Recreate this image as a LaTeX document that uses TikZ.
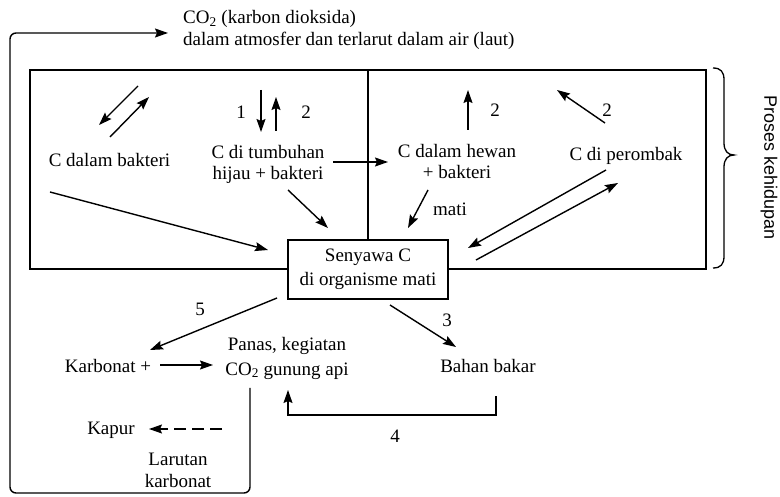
\documentclass[tikz,border=0pt]{standalone}
\usepackage{fontspec}
\setmainfont{Liberation Serif}
\newfontfamily\sansf{Liberation Sans}
\usetikzlibrary{arrows.meta}
\begin{document}
\begin{tikzpicture}[x=1pt,y=-1pt,
  every node/.style={inner sep=0pt, font=\fontsize{19}{21}\selectfont},
  txt/.style={align=center},
  arr/.style={line width=1.4pt,-{Stealth[length=13pt,width=9pt,inset=2pt]}},
  frame/.style={line width=1.1pt},
]
\useasboundingbox (0,0) rectangle (780,497);

% frame
\draw[frame] (30,70) rectangle (706,269);
\node[draw, frame, fill=white, minimum width=160pt, minimum height=59pt, txt,
      font=\fontsize{19}{24}\selectfont] (sen) at (368,269.5) {Senyawa C\\di organisme mati};
\coordinate (divtop) at (368,70);
\draw[frame] (divtop) -- (sen.north);

% brace
\draw[line width=1.3pt] (713,68) .. controls (721,68) and (724,72) .. (724,80) -- (724,143)
  .. controls (724,151) and (728,155) .. (734,155)
  .. controls (728,155) and (724,159) .. (724,167) -- (724,256)
  .. controls (724,264) and (721,268) .. (713,268);
\node[rotate=-90, font=\sansf\fontsize{18}{20}\selectfont] (proses) at (769,168) {Proses kehidupan};

% text nodes
\node[align=left, anchor=west, font=\fontsize{19}{21.5}\selectfont] (co2) at (183,30)
  {CO\textsubscript{2} (karbon dioksida)\\dalam atmosfer dan terlarut dalam air (laut)};
\node[anchor=base] (bak) at (109.5,167) {C dalam bakteri};
\node[txt] (tum) at (268,164) {C di tumbuhan\\hijau + bakteri};
\node[txt] (hew) at (457,162) {C dalam hewan\\+ bakteri};
\node[anchor=base] (per) at (626,161) {C di perombak};
\node[anchor=base] (karb) at (108,373) {Karbonat +};
\node[txt, font=\fontsize{19}{25}\selectfont] (pan) at (287,358) {Panas, kegiatan\\CO\textsubscript{2} gunung api};
\node[anchor=base] (bah) at (488,373) {Bahan bakar};
\node[anchor=base] (kap) at (111,435) {Kapur};
\node[txt, font=\fontsize{19}{22}\selectfont] (lar) at (178,470) {Larutan\\karbonat};

% labels
\node[anchor=base] (n1) at (241,119) {1};
\node[anchor=base] (n2a) at (306,119) {2};
\node[anchor=base] (n2b) at (495,117) {2};
\node[anchor=base] (n2c) at (607,117) {2};
\node[anchor=base] (mati) at (450,216) {mati};
\node[anchor=base] (n5) at (200,316) {5};
\node[anchor=base] (n3) at (447,327) {3};
\node[anchor=base] (n4) at (395,442) {4};

% coordinates for arrow ends
\coordinate (ba1s) at (138,86);  \coordinate (ba1e) at (99,125);
\coordinate (ba2s) at (110,137); \coordinate (ba2e) at (149,97);
\coordinate (t1s) at (261,90);   \coordinate (t1e) at (261,132);
\coordinate (t2s) at (276,131);  \coordinate (t2e) at (276,97);
\coordinate (th s) at (333,162); \coordinate (th e) at (388,162);
\coordinate (ts s) at (288,190); \coordinate (ts e) at (328,228);
\coordinate (bs s) at (50,192);  \coordinate (bs e) at (268,250);
\coordinate (hu s) at (468,130); \coordinate (hu e) at (468,90);
\coordinate (pu s) at (605,123); \coordinate (pu e) at (557,90);
\coordinate (hs s) at (428,190); \coordinate (hs e) at (408,228);
\coordinate (ps s) at (606,170); \coordinate (ps e) at (468,248);
\coordinate (sp s) at (476,260); \coordinate (sp e) at (618,183);
\coordinate (s5 s) at (277,298); \coordinate (s5 e) at (150,350);
\coordinate (s3 s) at (390,305); \coordinate (s3 e) at (456,347);
\coordinate (kp s) at (160,365); \coordinate (kp e) at (213,365);
\coordinate (b4 s) at (496,396); \coordinate (b4 e) at (288,390);
\coordinate (ld s) at (222,429); \coordinate (ld e) at (149,429);
\coordinate (loop s) at (250,388); \coordinate (loop e) at (168,33);

% arrows
\draw[arr] (ba1s) -- (ba1e);
\draw[arr] (ba2s) -- (ba2e);
\draw[arr] (t1s) -- (t1e);
\draw[arr] (t2s) -- (t2e);
\draw[arr] (th s) -- (th e);
\draw[arr] (ts s) -- (ts e);
\draw[arr] (bs s) -- (bs e);
\draw[arr] (hu s) -- (hu e);
\draw[arr] (pu s) -- (pu e);
\draw[arr] (hs s) -- (hs e);
\draw[arr] (ps s) -- (ps e);
\draw[arr] (sp s) -- (sp e);
\draw[arr] (s5 s) -- (s5 e);
\draw[arr] (s3 s) -- (s3 e);
\draw[arr] (kp s) -- (kp e);
\draw[arr] (b4 s) -- (b4 s |- 0,415) -- (b4 e |- 0,415) -- (b4 e);
\draw[arr, dash pattern=on 12pt off 6pt] (ld s) -- (ld e);
\draw[arr, rounded corners=6pt] (loop s) -- (loop s |- 0,493) -- (10,493) -- (10,33) -- (loop e);
\end{tikzpicture}
\end{document}
